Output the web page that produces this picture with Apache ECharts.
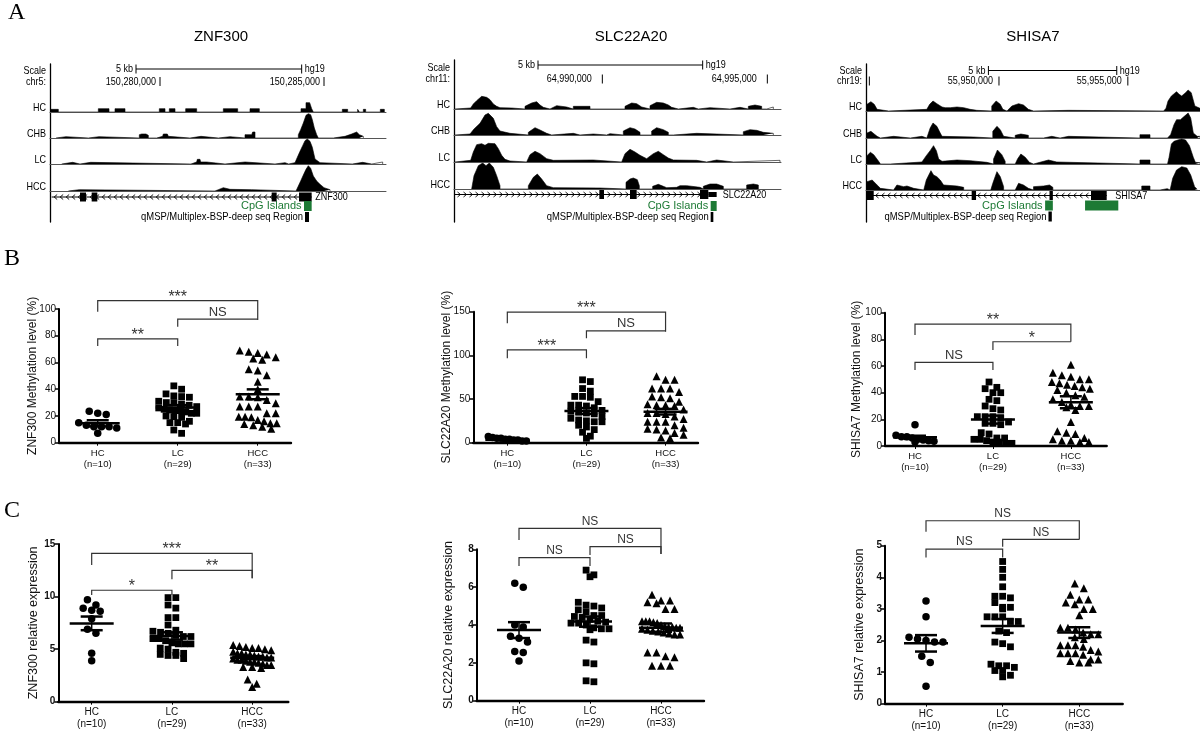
<!DOCTYPE html>
<html>
<head>
<meta charset="utf-8">
<title>ZNF300 / SLC22A20 / SHISA7</title>
<script src="https://cdn.jsdelivr.net/npm/echarts@6.0.0/dist/echarts.min.js"></script>
<style>
html,body{margin:0;padding:0;background:#fff;}
#chart{width:1200px;height:731px;}
</style>
</head>
<body>
<div id="chart"></div>
<script>
// ======================= DATA =======================
const genes = ['ZNF300', 'SLC22A20', 'SHISA7'];
const chroms = ['chr5:', 'chr11:', 'chr19:'];
const trackNames = ['HC', 'CHB', 'LC', 'HCC'];
const groups = ['HC', 'LC', 'HCC'];
const groupN = ['(n=10)', '(n=29)', '(n=33)'];

// genome browser windows (kb from window start)
const regionSpanKb = [10.08, 9.81, 12.96];
const scaleBarKb = [[2.58, 7.55], [2.52, 7.46], [4.75, 9.73]];
const scaleBarText = ['5 kb', 'hg19'];
const coordTicksKb = [[3.30, 8.22], [4.45, 9.40], [0.13, 5.16, 10.16]];
const coordTickLabels = [['150,280,000', '150,285,000'], ['64,990,000', '64,995,000'], ['', '55,950,000', '55,955,000']];

// coverage tracks: features of [kb, signal] vertices
const znfHC = [
  [[0.02,8],[0.25,8]], [[1.45,10],[1.77,10]], [[1.95,10],[2.25,10]], [[3.28,10],[3.45,10]],
  [[3.58,10],[3.75,10]], [[4.07,10],[4.40,10]], [[5.20,10],[5.63,10]], [[6.00,10],[6.28,10]],
  [[7.53,10],[7.68,10],[7.68,28],[7.74,32],[7.79,28],[7.85,30],[7.85,10],[7.90,10]],
  [[8.77,8],[8.93,8]], [[9.23,8],[9.28,8]], [[9.40,8],[9.47,8]], [[9.91,8],[10.03,8]]
];
const znfCHB = [
  [[0.18,4],[0.48,4]], [[1.15,4],[1.47,4]], [[2.68,10],[2.75,12],[2.88,12],[2.95,8]],
  [[3.20,5],[3.38,5],[3.40,12],[3.52,12],[3.55,5],[3.60,5]], [[4.20,5],[4.53,5]], [[5.05,4],[5.40,4]],
  [[5.85,10],[6.05,10],[6.08,18],[6.15,18],[6.15,12]],
  [[7.45,10],[7.52,25],[7.60,45],[7.68,68],[7.75,73],[7.82,70],[7.87,55],[7.93,30],[8.00,10],[8.05,5]],
  [[8.50,5],[8.85,5]], [[8.90,8],[9.05,12],[9.10,18],[9.20,18],[9.28,10],[9.40,5]]
];
const znfLC = [
  [[0.35,5],[0.68,5]], [[0.90,5],[1.22,5]], [[4.23,6],[4.40,6],[4.42,14],[4.50,14],[4.52,6],[4.70,6]],
  [[5.25,6],[5.85,6]], [[6.75,4],[7.05,4]],
  [[7.16,4],[7.35,4],[7.42,20],[7.50,38],[7.58,55],[7.65,70],[7.72,75],[7.80,68],[7.87,50],[7.95,15],[8.10,4]],
  [[9.07,5],[9.38,5]], [[9.65,6],[9.98,6]]
];
const znfHCC = [
  [[0.55,4],[0.88,4]], [[4.95,4],[5.05,4],[5.07,10],[5.20,10],[5.22,5],[5.40,5],[6.05,4]],
  [[7.38,4],[7.45,15],[7.52,30],[7.60,48],[7.68,65],[7.75,76],[7.82,68],[7.90,45],[8.00,30],[8.10,20],[8.22,10],[8.40,4]]
];
const slcHC = [
  [[0.03,3],[0.50,3],[0.58,15],[0.68,25],[0.83,38],[0.98,35],[1.08,28],[1.18,15],[1.28,8],[1.38,4],[1.73,3]],
  [[2.13,8],[2.33,18],[2.48,22],[2.58,12],[2.68,5]], [[2.88,6],[3.08,10],[3.38,6]], [[3.58,8],[4.08,8]],
  [[5.13,8],[5.33,18],[5.48,16],[5.63,6]], [[5.88,10],[6.08,20],[6.28,18],[6.43,12],[6.53,5]],
  [[6.73,5],[7.18,5]], [[7.33,4],[7.68,4]], [[8.28,5],[8.58,5]], [[8.83,8],[9.03,12],[9.23,8]], [[9.38,6],[9.58,6]]
];
const slcCHB = [
  [[0.03,3],[0.48,3],[0.60,18],[0.78,35],[0.93,60],[1.03,65],[1.18,50],[1.28,25],[1.38,12],[1.68,5]],
  [[2.23,8],[2.43,22],[2.58,15],[2.78,5]], [[2.93,5],[3.58,5]], [[3.78,3],[4.18,3]], [[4.58,4],[4.68,4]],
  [[5.08,12],[5.28,22],[5.43,18],[5.58,8]], [[5.93,12],[6.08,22],[6.28,16],[6.43,8]], [[6.58,5],[7.28,5]],
  [[8.68,10],[8.88,16],[9.08,14],[9.28,8],[9.58,5]]
];
const slcLC = [
  [[0.03,5],[0.50,5],[0.58,30],[0.68,52],[0.83,55],[0.93,50],[1.03,56],[1.23,55],[1.33,40],[1.43,20],[1.53,8],[1.68,3]],
  [[2.18,3],[2.28,22],[2.43,32],[2.58,25],[2.78,10],[2.98,5],[4.18,6]],
  [[5.03,5],[5.13,25],[5.28,38],[5.43,30],[5.58,20],[5.78,10],[5.98,25],[6.13,32],[6.28,22],[6.43,12],[6.58,6],[7.28,5]],
  [[7.58,6],[7.88,6]], [[8.38,5],[9.78,5]]
];
const slcHCC = [
  [[0.53,5],[0.60,40],[0.73,70],[0.86,78],[0.96,70],[1.06,78],[1.18,65],[1.28,40],[1.38,10]],
  [[2.23,10],[2.38,35],[2.50,45],[2.63,30],[2.78,10],[2.98,4],[4.38,3]],
  [[5.16,20],[5.28,30],[5.38,33],[5.50,28],[5.56,10]],
  [[5.96,8],[6.13,14],[6.28,8],[6.38,4],[6.68,5],[6.78,10],[6.98,10],[7.38,5]],
  [[7.48,8],[7.68,15],[7.88,15],[8.08,8]], [[8.78,12],[8.98,15],[9.13,12]]
];
const shisaHC = [
  [[0.04,20],[0.19,28],[0.32,20],[0.43,5]],
  [[0.88,5],[2.36,5],[2.47,20],[2.60,30],[2.75,22],[2.95,12],[3.07,10],[3.27,10],[3.53,12],[3.79,10],[4.04,5],[4.30,2]],
  [[4.88,15],[5.05,30],[5.21,20],[5.31,5]], [[5.47,3],[5.66,15],[5.92,22],[6.11,18],[6.30,5]], [[6.50,2],[7.86,2]],
  [[11.55,3],[11.64,8],[11.72,30],[11.85,45],[12.05,58],[12.15,50],[12.25,45],[12.40,55],[12.50,63],[12.62,55],[12.76,15],[12.96,8]]
];
const shisaCHB = [
  [[0.04,15],[0.19,20],[0.32,12],[0.43,5]], [[0.56,5],[1.07,5]], [[1.72,5],[2.17,5]],
  [[2.36,5],[2.49,30],[2.60,45],[2.75,35],[2.88,15],[2.95,5],[4.17,3]],
  [[4.92,20],[5.08,35],[5.21,25],[5.34,5]], [[5.79,8],[6.01,12],[6.30,8]], [[6.89,5],[7.21,5]], [[7.53,5],[7.86,5]],
  [[10.63,10],[11.02,10]],
  [[11.70,3],[11.82,10],[11.95,40],[12.05,55],[12.20,55],[12.35,65],[12.50,75],[12.60,60],[12.70,15],[12.85,5],[12.96,5]]
];
const shisaLC = [
  [[0.04,25],[0.17,35],[0.30,28],[0.49,8],[0.56,3]],
  [[0.95,5],[2.17,6],[2.34,25],[2.49,40],[2.62,55],[2.73,40],[2.82,15],[2.95,8],[3.53,12],[4.04,10],[4.69,5]],
  [[4.95,15],[5.10,42],[5.27,28],[5.40,8]], [[5.79,5],[5.88,15],[6.01,30],[6.18,20],[6.34,5]],
  [[6.50,6],[7.08,12],[7.40,6]], [[10.63,12],[11.02,12]],
  [[11.70,3],[11.76,20],[11.85,60],[11.95,68],[12.10,72],[12.25,75],[12.40,72],[12.55,55],[12.70,20],[12.78,5],[12.96,4]]
];
const shisaHCC = [
  [[0.04,25],[0.24,30],[0.43,15],[0.56,5]], [[1.07,5],[1.20,15],[1.46,10],[1.59,12],[1.85,5]],
  [[2.24,5],[2.34,30],[2.52,58],[2.62,45],[2.75,40],[2.88,30],[3.01,15],[3.53,12],[3.79,8]],
  [[4.84,5],[4.92,20],[5.08,55],[5.21,40],[5.34,10]], [[5.79,5],[5.92,20],[6.11,15],[6.30,5]],
  [[6.50,10],[6.89,12],[7.12,15],[7.25,8]], [[10.70,12],[11.02,12]], [[11.41,4],[11.69,4]],
  [[11.80,5],[11.90,35],[12.05,60],[12.25,70],[12.45,66],[12.60,45],[12.75,10],[12.85,2]]
];

// gene models (kb)
const geneIntronKb = [[0.05, 7.85], [0.03, 7.63], [0.04, 9.34]];
const geneStrand = [-1, 1, -1];
const znfExons = [[0.90,1.08],[1.25,1.42],[6.65,6.80],[7.47,7.85]];
const slcExons = [[4.36,4.50],[5.28,5.48],[7.38,7.63]];
const shisaExons = [[0.00,0.30],[4.10,4.27],[7.12,7.25],[8.73,9.34]];
const znfUtr = [];
const slcUtr = [[7.63,7.88]];
const shisaUtr = [];
const znfCpG = [[7.62,7.85]];
const slcCpG = [[7.70,7.88]];
const shisaCpG = [[6.95,7.25],[8.50,9.79]];
const qmspKb = [[7.65,7.77], [7.70,7.78], [7.08,7.21]];
const cpgLabel = 'CpG Islands';
const qmspLabel = 'qMSP/Multiplex-BSP-deep seq Region';

// ---- B: methylation level (%) ----
const methZnfHC = [21, 23.5, 22, 12, 12, 13, 11, 12, 7, 15];
const methZnfLC = [40, 42.5, 36.5, 34, 34.5, 35, 31, 30, 30, 29, 28, 27, 26, 25, 24, 24.5, 24, 23, 22, 22, 20, 19.5, 19, 15, 15, 14, 16, 7, 9.5];
const methZnfHCC = [67, 69, 68, 66, 64, 62, 63, 55, 54, 50.5, 45.5, 40, 32, 34.5, 34.5, 34, 29.5, 27, 27, 27, 22, 22, 19.5, 19.5, 19, 14.5, 14.5, 14, 13, 10.5, 12, 17, 16];
const methZnfMean = [14.5, 26.4, 36.2];
const methZnfSem = [2.3, 1.7, 3.7];
const methZnfSig = [[0,2,106.2,98,91.8],[1,2,92.5,86.8,92.5],[0,1,77.6,72.3,72.3]];
const methZnfSigText = ['***', 'NS', '**'];

const methSlcHC = [3, 4, 5, 6, 7, 5, 3, 2, 4, 2];
const methSlcLC = [72, 70, 62, 59, 53, 53, 52, 47, 43, 43, 42, 40, 37, 36, 35, 34, 33, 30, 28, 26, 25, 24, 24, 20, 18, 15, 12, 7.5, 5];
const methSlcHCC = [76, 72, 72, 62, 62, 62, 58, 53, 52, 51, 47, 44, 43, 43, 42, 38, 34, 34, 33, 30, 27, 24, 24, 24, 20, 17, 16, 15, 14, 11, 9, 5, 6];
const methSlcMean = [3.5, 36.3, 35.5];
const methSlcSem = [0.6, 3.4, 3.2];
const methSlcSig = [[0,2,149.4,136.8,127],[1,2,128,119.6,128],[0,1,106.2,96.7,96.7]];
const methSlcSigText = ['***', 'NS', '***'];

const methShisaHC = [16, 5, 7, 8, 7, 4.5, 3.5, 3, 4, 6];
const methShisaLC = [48, 44, 43, 40, 40, 35, 34, 30, 28, 27, 22, 22, 22, 21, 18, 17, 17, 16, 10, 9, 6, 6, 5, 5, 4, 3, 3, 2, 2];
const methShisaHCC = [61, 55, 53, 52, 50, 50, 48, 47, 46, 45, 44, 43, 42, 40, 38, 37, 35, 33, 31, 30, 30, 29, 27, 18, 11, 10, 9, 6, 5, 4, 4, 3, 3];
const methShisaMean = [6.5, 19.8, 32.8];
const methShisaSem = [1.2, 3.0, 4.5];
const methShisaSig = [[0,2,91.5,83.3,78.2],[1,2,78.2,72,78.2],[0,1,62.8,57,57]];
const methShisaSigText = ['**', '*', 'NS'];

// ---- C: relative expression ----
const exprZnfHC = [9.2, 9.7, 8.7, 8.6, 8.9, 7.9, 6.9, 6.5, 4.6, 3.9];
const exprZnfLC = [9.9, 9.9, 9.2, 8.9, 8.0, 8.0, 7.3, 6.8, 6.7, 6.6, 6.5, 6.3, 6.2, 6.2, 6.0, 6.0, 5.8, 5.6, 5.5, 5.5, 5.5, 5.1, 5.0, 4.7, 4.5, 4.4, 4.4, 4.1, 4.6];
const exprZnfHCC = [5.1, 5.4, 5.2, 5.1, 5.3, 5.0, 4.9, 4.6, 4.75, 4.6, 4.5, 4.5, 4.4, 4.3, 4.3, 4.2, 4.2, 4.1, 4.0, 4.0, 3.9, 3.8, 3.8, 3.7, 3.6, 3.5, 3.5, 3.3, 3.3, 3.2, 2.1, 1.7, 1.4];
const exprZnfMean = [7.45, 6.25, 4.19];
const exprZnfSem = [0.65, 0.35, 0.15];
const exprZnfSig = [[0,2,14.1,13.0,11.74],[1,2,12.5,11.65,11.74],[0,1,10.6,10.15,10.15]];
const exprZnfSigText = ['***', '**', '*'];

const exprSlcHC = [6.0, 6.2, 4.0, 3.9, 3.4, 3.1, 3.3, 2.6, 2.55, 2.1];
const exprSlcLC = [6.9, 6.65, 6.55, 5.2, 5.05, 5.0, 4.9, 4.8, 4.7, 4.5, 4.5, 4.45, 4.4, 4.3, 4.2, 4.15, 4.1, 4.1, 4.0, 3.85, 3.8, 3.8, 3.75, 3.2, 3.1, 2.0, 1.95, 1.05, 1.0];
const exprSlcHCC = [5.6, 5.2, 5.3, 5.3, 5.15, 4.85, 4.85, 4.2, 4.2, 4.15, 4.2, 4.1, 4.0, 3.95, 3.9, 3.85, 3.85, 3.8, 3.75, 3.7, 3.65, 3.6, 3.55, 3.5, 3.5, 2.55, 2.55, 2.35, 2.3, 1.85, 1.85, 1.85, 3.9];
const exprSlcMean = [3.73, 4.18, 3.86];
const exprSlcSem = [0.42, 0.27, 0.22];
const exprSlcSig = [[0,2,9.11,8.49,7.75],[1,2,8.14,7.7,7.75],[0,1,7.56,7.12,7.12]];
const exprSlcSigText = ['NS', 'NS', 'NS'];

const exprShisaHC = [3.25, 2.75, 2.1, 1.95, 1.95, 2.05, 2.0, 1.5, 1.3, 0.55];
const exprShisaLC = [4.5, 4.25, 4.0, 3.7, 3.4, 3.4, 3.35, 3.2, 3.05, 3.05, 3.0, 2.75, 2.75, 2.75, 2.6, 2.3, 2.25, 2.6, 1.95, 1.9, 1.8, 1.25, 1.15, 1.2, 1.2, 1.05, 1.05, 0.9, 0.85];
const exprShisaHCC = [3.8, 3.65, 3.3, 3.2, 3.15, 3.45, 3.3, 3.0, 2.8, 3.0, 2.4, 2.4, 2.35, 2.25, 2.2, 2.2, 2.1, 2.05, 1.85, 1.85, 1.85, 1.8, 1.7, 1.65, 1.6, 1.6, 1.6, 1.55, 1.4, 1.35, 1.3, 1.3, 1.4];
const exprShisaMean = [1.91, 2.46, 2.25];
const exprShisaSem = [0.26, 0.22, 0.17];
const exprShisaSig = [[0,2,5.79,5.44,5.2],[1,2,5.2,4.97,5.2],[0,1,4.89,4.63,4.63]];
const exprShisaSigText = ['NS', 'NS', 'NS'];

const yTitles = ['ZNF300 Methylation level (%)', 'SLC22A20 Methylation level (%)', 'SHISA7 Methylation level (%)',
                 'ZNF300 relative expression', 'SLC22A20 relative expression', 'SHISA7 relative expression'];
const yMax = [100, 150, 100, 15, 8, 5];
const yInterval = [20, 50, 20, 5, 2, 1];

// ======================= LAYOUT / STYLE =======================
const FONT_SANS = "'Liberation Sans',Arial,sans-serif";
const FONT_SERIF = "'Liberation Serif','DejaVu Serif',serif";
const NARROW = 0.82;           // horizontal squeeze giving an Arial-Narrow look for genome-browser text
const TRACK_H = 26, TRACK_MAX = 78;

const panels = [
  {left:50, width:336, lineTop:64, scaleY:69, hdr1:70.5, hdr2:81.5, base:[112,138,164,191], geneY:197, cpgY:206, qY:217, bottom:222, nameGap:3.5, tickGap:4, titleX:221},
  {left:454, width:327, lineTop:60, scaleY:65, hdr1:67.5, hdr2:79, base:[109,135,162,189], geneY:194.5, cpgY:206, qY:217, bottom:222, nameGap:6, tickGap:10.5, titleX:631},
  {left:866, width:334, lineTop:64, scaleY:70.5, hdr1:70.5, hdr2:81, base:[111,138,164,190], geneY:195.5, cpgY:205.5, qY:216.5, bottom:222, nameGap:8.5, tickGap:6, titleX:1033}
];
const dotLayout = [
  {left:59, top:309, width:232, height:133.7, xmin:-0.484, xmax:2.416, nameGap:20},
  {left:473.3, top:311.7, width:224.7, height:131, xmin:-0.43, xmax:2.41, nameGap:21},
  {left:885, top:312.7, width:221.7, height:133.3, xmin:-0.385, xmax:2.46, nameGap:22},
  {left:58.3, top:544, width:230, height:157.7, xmin:-0.416, xmax:2.45, nameGap:18},
  {left:476.7, top:549.3, width:227.3, height:151.4, xmin:-0.596, xmax:2.606, nameGap:22},
  {left:885, top:545.7, width:237.7, height:158, xmin:-0.535, xmax:2.566, nameGap:19}
];

// ======================= BUILD =======================
const trackData = [[znfHC, znfCHB, znfLC, znfHCC], [slcHC, slcCHB, slcLC, slcHCC], [shisaHC, shisaCHB, shisaLC, shisaHCC]];
const exonData = [znfExons, slcExons, shisaExons];
const utrData = [znfUtr, slcUtr, shisaUtr];
const cpgData = [znfCpG, slcCpG, shisaCpG];
const dotValues = [[methZnfHC, methZnfLC, methZnfHCC], [methSlcHC, methSlcLC, methSlcHCC], [methShisaHC, methShisaLC, methShisaHCC],
                   [exprZnfHC, exprZnfLC, exprZnfHCC], [exprSlcHC, exprSlcLC, exprSlcHCC], [exprShisaHC, exprShisaLC, exprShisaHCC]];
const dotMeans = [methZnfMean, methSlcMean, methShisaMean, exprZnfMean, exprSlcMean, exprShisaMean];
const dotSems = [methZnfSem, methSlcSem, methShisaSem, exprZnfSem, exprSlcSem, exprShisaSem];
const dotSig = [methZnfSig, methSlcSig, methShisaSig, exprZnfSig, exprSlcSig, exprShisaSig];
const dotSigText = [methZnfSigText, methSlcSigText, methShisaSigText, exprZnfSigText, exprSlcSigText, exprShisaSigText];

const grid = [], xAxis = [], yAxis = [], series = [], graphic = [];
function addGrid(g, xa, ya) {
  grid.push(Object.assign({outerBoundsMode: 'none', containLabel: false}, g));
  const gi = grid.length - 1;
  xAxis.push(Object.assign({gridIndex: gi}, xa));
  yAxis.push(Object.assign({gridIndex: gi}, ya));
  return gi;
}
function buildProfile(features) {
  const pts = [];
  features.forEach(f => {
    pts.push([f[0][0], 0]);
    f.forEach(p => pts.push([p[0], p[1]]));
    pts.push([f[f.length - 1][0], 0]);
  });
  return pts;
}
// text element (usable both in graphic component and custom series)
function tEl(x, y, text, font, align, fill, sx) {
  return {type: 'text', x: x, y: y, scaleX: sx || 1, silent: true,
    style: {x: 0, y: 0, text: text, font: font, fill: fill || '#000', textAlign: align || 'left', textVerticalAlign: 'middle'}};
}

// ---------- Panel A ----------
panels.forEach((P, r) => {
  trackData[r].forEach((feat, t) => {
    const gi = addGrid({left: P.left, top: P.base[t] - TRACK_H, width: P.width, height: TRACK_H},
      {type: 'value', min: 0, max: regionSpanKb[r], axisLine: {show: true, onZero: true, lineStyle: {color: '#555', width: 1}},
       axisTick: {show: false}, axisLabel: {show: false}, splitLine: {show: false}},
      {type: 'value', min: 0, max: TRACK_MAX, show: false, splitLine: {show: false}});
    series.push({type: 'line', xAxisIndex: gi, yAxisIndex: gi, data: buildProfile(feat), symbol: 'none', showSymbol: false,
      lineStyle: {color: '#000', width: 0.6}, areaStyle: {color: '#000', opacity: 1}, silent: true, animation: false});
    graphic.push(tEl(P.left - 4, P.base[t] - 4.5, trackNames[t], '11px ' + FONT_SANS, 'right', '#000', NARROW));
  });

  const ai = addGrid({left: P.left, top: P.lineTop, width: P.width, height: P.bottom - P.lineTop},
    {type: 'value', min: 0, max: regionSpanKb[r], show: false},
    {type: 'value', min: 0, max: 1, show: true, axisLine: {show: true, onZero: false, lineStyle: {color: '#000', width: 1.3}},
     axisTick: {show: false}, axisLabel: {show: false}, splitLine: {show: false}});
  const X = (api, v) => api.coord([v, 0])[0];

  // scale bar
  series.push({type: 'custom', xAxisIndex: ai, yAxisIndex: ai, silent: true, animation: false, clip: false,
    data: [scaleBarKb[r]],
    renderItem: (params, api) => {
      const a = X(api, api.value(0)), b = X(api, api.value(1)), y = P.scaleY;
      const st = {stroke: '#000', lineWidth: 1};
      return {type: 'group', children: [
        {type: 'line', shape: {x1: a, y1: y, x2: b, y2: y}, style: st},
        {type: 'line', shape: {x1: a, y1: y - 4.5, x2: a, y2: y + 4.5}, style: st},
        {type: 'line', shape: {x1: b, y1: y - 4.5, x2: b, y2: y + 4.5}, style: st},
        tEl(a - 3, y, scaleBarText[0], '11px ' + FONT_SANS, 'right', '#000', NARROW),
        tEl(b + 3, y, scaleBarText[1], '11px ' + FONT_SANS, 'left', '#000', NARROW)
      ]};
    }});
  // coordinate ticks
  series.push({type: 'custom', xAxisIndex: ai, yAxisIndex: ai, silent: true, animation: false, clip: false,
    data: coordTicksKb[r].map(v => [v]),
    renderItem: (params, api) => {
      const x = X(api, api.value(0)), y = P.hdr2;
      return {type: 'group', children: [
        {type: 'line', shape: {x1: x, y1: y - 4.5, x2: x, y2: y + 4.5}, style: {stroke: '#000', lineWidth: 1}},
        tEl(x - P.tickGap, y, coordTickLabels[r][params.dataIndex], '11px ' + FONT_SANS, 'right', '#000', NARROW)
      ]};
    }});
  // intron line with strand chevrons + gene name
  const geneEnd = Math.max(geneIntronKb[r][1], ...exonData[r].map(e => e[1]), ...utrData[r].map(e => e[1]));
  series.push({type: 'custom', xAxisIndex: ai, yAxisIndex: ai, silent: true, animation: false, clip: false,
    data: [geneIntronKb[r]],
    renderItem: (params, api) => {
      const x1 = X(api, api.value(0)), x2 = X(api, api.value(1)), y = P.geneY, s = geneStrand[r];
      const ch = [{type: 'line', shape: {x1: x1, y1: y, x2: x2, y2: y}, style: {stroke: '#000', lineWidth: 1}}];
      for (let x = x1 + 4; x < x2 - 2; x += 6) {
        ch.push({type: 'polyline', shape: {points: [[x - 1.5 * s, y - 2.5], [x + 1.5 * s, y], [x - 1.5 * s, y + 2.5]]},
          style: {stroke: '#000', lineWidth: 0.9, fill: null}});
      }
      ch.push(tEl(X(api, geneEnd) + P.nameGap, y, genes[r], '11px ' + FONT_SANS, 'left', '#000', NARROW));
      return {type: 'group', children: ch};
    }});
  // exons & UTR
  [[exonData[r], 9], [utrData[r], 5]].forEach(([arr, h]) => {
    if (!arr.length) return;
    series.push({type: 'custom', xAxisIndex: ai, yAxisIndex: ai, silent: true, animation: false, clip: false,
      data: arr,
      renderItem: (params, api) => {
        const a = X(api, api.value(0)), b = X(api, api.value(1));
        return {type: 'rect', shape: {x: a, y: P.geneY - h / 2, width: Math.max(b - a, 1.5), height: h}, style: {fill: '#000'}};
      }});
  });
  // CpG islands
  series.push({type: 'custom', xAxisIndex: ai, yAxisIndex: ai, silent: true, animation: false, clip: false,
    data: cpgData[r],
    renderItem: (params, api) => {
      const a = X(api, api.value(0)), b = X(api, api.value(1)), y = P.cpgY;
      const ch = [{type: 'rect', shape: {x: a, y: y - 5, width: b - a, height: 10}, style: {fill: '#1d7a35'}}];
      if (params.dataIndex === 0) ch.push(tEl(a - 2.5, y, cpgLabel, '11px ' + FONT_SANS, 'right', '#1d7a35'));
      return {type: 'group', children: ch};
    }});
  // qMSP / BSP region
  series.push({type: 'custom', xAxisIndex: ai, yAxisIndex: ai, silent: true, animation: false, clip: false,
    data: [qmspKb[r]],
    renderItem: (params, api) => {
      const a = X(api, api.value(0)), b = X(api, api.value(1)), y = P.qY;
      return {type: 'group', children: [
        {type: 'rect', shape: {x: a, y: y - 5, width: b - a, height: 10}, style: {fill: '#000'}},
        tEl(a - 2, y, qmspLabel, '11.5px ' + FONT_SANS, 'right', '#000', NARROW)
      ]};
    }});

  graphic.push(tEl(P.titleX, 37, genes[r], '15px ' + FONT_SANS, 'center'));
  graphic.push(tEl(P.left - 4, P.hdr1, 'Scale', '11px ' + FONT_SANS, 'right', '#000', NARROW));
  graphic.push(tEl(P.left - 4, P.hdr2, chroms[r], '11px ' + FONT_SANS, 'right', '#000', NARROW));
});

// ---------- Panels B & C ----------
const symbols = ['circle', 'rect', 'triangle'];
const symbolSizes = [7.5, 6.8, 8];
// column-scatter layout: points of similar value share a row, spread sideways
function swarm(values, cat, pxY, pxX, sym) {
  const sorted = values.slice().sort((a, b) => b - a);
  const rows = [];
  let cur = null;
  sorted.forEach(v => {
    if (!cur || (cur.top - v) * pxY > sym * 0.85) { cur = {top: v, pts: []}; rows.push(cur); }
    cur.pts.push(v);
  });
  const out = [];
  rows.forEach(rw => {
    const k = rw.pts.length;
    let g = sym + 1;
    const maxHalf = 19;
    if ((k - 1) / 2 * g > maxHalf) g = maxHalf / ((k - 1) / 2);
    rw.pts.forEach((v, j) => out.push([cat + (j - (k - 1) / 2) * g / pxX, v]));
  });
  return out;
}

dotLayout.forEach((D, k) => {
  const isC = k >= 3;
  const gi = addGrid({left: D.left, top: D.top, width: D.width, height: D.height},
    {type: 'value', min: D.xmin, max: D.xmax,
     axisLine: {show: true, onZero: false, lineStyle: {color: '#000', width: 2.4}},
     axisTick: {show: true, customValues: [0, 1, 2], length: 3, lineStyle: {color: '#000', width: 1}},
     axisLabel: {show: true, customValues: [0, 1, 2], formatter: v => groups[Math.round(v)] + '\n' + groupN[Math.round(v)],
       fontSize: isC ? 10 : 9.5, lineHeight: isC ? 12 : 11, color: '#111', fontFamily: FONT_SANS, margin: 5},
     splitLine: {show: false}},
    {type: 'value', min: 0, max: yMax[k], interval: yInterval[k],
     name: yTitles[k], nameLocation: 'middle', nameGap: D.nameGap, nameRotate: 90, nameMoveOverlap: false,
     nameTextStyle: {fontSize: isC ? 12.5 : 12, fontFamily: FONT_SANS, color: '#111'},
     axisLine: {show: true, onZero: false, lineStyle: {color: '#000', width: 2}},
     axisTick: {show: true, length: 4, lineStyle: {color: '#000', width: 1.5}},
     axisLabel: {fontSize: 10, fontWeight: isC ? 'bold' : 'normal', color: '#111', margin: 3, fontFamily: FONT_SANS},
     splitLine: {show: false}});
  const pxY = D.height / yMax[k], pxX = D.width / (D.xmax - D.xmin);
  dotValues[k].forEach((vals, c) => {
    series.push({type: 'scatter', xAxisIndex: gi, yAxisIndex: gi, symbol: symbols[c], symbolSize: symbolSizes[c],
      itemStyle: {color: '#000', opacity: 1}, data: swarm(vals, c, pxY, pxX, symbolSizes[c]), silent: true, animation: false});
  });
  // mean ± SEM
  series.push({type: 'custom', xAxisIndex: gi, yAxisIndex: gi, silent: true, animation: false, clip: false, z: 5,
    data: dotMeans[k].map((m, c) => [c, m, dotSems[k][c]]),
    renderItem: (params, api) => {
      const c = api.value(0), m = api.value(1), s = api.value(2);
      const pm = api.coord([c, m]), pu = api.coord([c, m + s]), pl = api.coord([c, m - s]);
      const st = {stroke: '#000', lineWidth: 2.5};
      return {type: 'group', children: [
        {type: 'line', shape: {x1: pm[0] - 22, y1: pm[1], x2: pm[0] + 22, y2: pm[1]}, style: st},
        {type: 'line', shape: {x1: pu[0] - 11, y1: pu[1], x2: pu[0] + 11, y2: pu[1]}, style: st},
        {type: 'line', shape: {x1: pl[0] - 11, y1: pl[1], x2: pl[0] + 11, y2: pl[1]}, style: st},
        {type: 'line', shape: {x1: pu[0], y1: pu[1], x2: pl[0], y2: pl[1]}, style: {stroke: '#000', lineWidth: 1.5}}
      ]};
    }});
  // significance brackets
  series.push({type: 'custom', xAxisIndex: gi, yAxisIndex: gi, silent: true, animation: false, clip: false, z: 5,
    data: dotSig[k],
    renderItem: (params, api) => {
      const x1 = api.value(0), x2 = api.value(1), yt = api.value(2), yl = api.value(3), yr = api.value(4);
      const a = api.coord([x1, yl]), b = api.coord([x1, yt]), c = api.coord([x2, yt]), d = api.coord([x2, yr]);
      const t = dotSigText[k][params.dataIndex];
      const star = t.indexOf('*') >= 0;
      return {type: 'group', children: [
        {type: 'polyline', shape: {points: [a, b, c, d]}, style: {stroke: '#333', lineWidth: 1.2, fill: null}},
        tEl((b[0] + c[0]) / 2, b[1] - (star ? 3.5 : 7), t, (star ? '16px ' : (isC ? '12px ' : '13px ')) + FONT_SANS, 'center', '#333')
      ]};
    }});
});

// panel letters
graphic.push(tEl(8, 13, 'A', '24px ' + FONT_SERIF, 'left'));
graphic.push(tEl(4, 259, 'B', '24px ' + FONT_SERIF, 'left'));
graphic.push(tEl(4, 511, 'C', '24px ' + FONT_SERIF, 'left'));

const chart = echarts.init(document.getElementById('chart'), null, {renderer: 'canvas'});
chart.setOption({
  animation: false,
  backgroundColor: '#fff',
  grid: grid, xAxis: xAxis, yAxis: yAxis, series: series,
  graphic: graphic
});
</script>
</body>
</html>
